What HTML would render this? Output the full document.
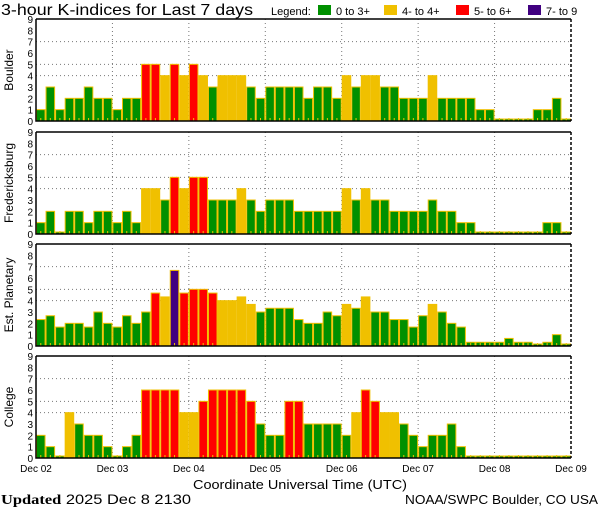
<!DOCTYPE html>
<html><head><meta charset="utf-8"><style>
body{margin:0;background:#fff;}
svg{display:block;font-family:"Liberation Sans",sans-serif;}
</style></head><body>
<svg id="c" width="600" height="510" xmlns="http://www.w3.org/2000/svg">
<text x="1" y="15" font-size="16" fill="#000" textLength="252" lengthAdjust="spacingAndGlyphs">3-hour K-indices for Last 7 days</text>
<g font-size="11">
<text x="271" y="15">Legend:</text>
<rect x="318" y="5" width="13" height="10" fill="#009000"/>
<text x="336" y="15">0 to 3+</text>
<rect x="384" y="5" width="13" height="10" fill="#f0c000"/>
<text x="402" y="15">4- to 4+</text>
<rect x="456" y="5" width="13" height="10" fill="#ff0000"/>
<text x="474" y="15">5- to 6+</text>
<rect x="528" y="5" width="13" height="10" fill="#400080"/>
<text x="546" y="15">7- to 9</text>
</g>
<text x="193" y="489" font-size="13" textLength="214" lengthAdjust="spacingAndGlyphs">Coordinate Universal Time (UTC)</text>
<text x="1" y="504" font-size="14" textLength="190" lengthAdjust="spacingAndGlyphs"><tspan font-family="Liberation Serif,serif" font-weight="bold">Updated</tspan> 2025 Dec  8 2130</text>
<text x="405" y="504" font-size="13" textLength="193" lengthAdjust="spacingAndGlyphs">NOAA/SWPC Boulder, CO USA</text>
</svg>
<script>
const stations = ["Boulder","Fredericksburg","Est. Planetary","College"];
const dayLabels = ["Dec 02","Dec 03","Dec 04","Dec 05","Dec 06","Dec 07","Dec 08","Dec 09"];
const yTicks = [0,1,2,3,4,5,6,7,8,9];
const gridLevels = [4,5,7];
const boulder = [1,3,1,2,2,3,2,2, 1,2,2,5,5,4,5,4, 5,4,3,4,4,4,3,2, 3,3,3,3,2,3,3,2, 4,3,4,4,3,3,2,2, 2,4,2,2,2,2,1,1, 0,0,0,0,1,1,2,0];
const fredericksburg = [1,2,0,2,2,1,2,2, 1,2,1,4,4,3,5,4, 5,5,3,3,3,4,3,2, 3,3,3,2,2,2,2,2, 4,3,4,3,3,2,2,2, 2,3,2,2,1,1,0,0, 0,0,0,0,0,1,1,0];
const planetary = [2.33,2.67,1.67,2,2,1.67,3,2, 1.67,2.67,2,3,4.67,4.33,6.67,4.67, 5,5,4.67,4,4,4.33,3.67,3, 3.33,3.33,3.33,2.33,2,2,3,2.67, 3.67,3.33,4.33,3,3,2.33,2.33,1.67, 2.67,3.67,3,2,1.67,0.33,0.33,0.33, 0.33,0.67,0.33,0.33,0,0.33,1,0];
const college = [2,1,0,4,3,2,2,1, 0,1,2,6,6,6,6,4, 4,5,6,6,6,6,5,3, 2,2,5,5,3,3,3,3, 2,4,6,5,4,4,3,2, 1,2,2,3,1,0,0,0, 0,0,0,0,0,0,0,0];
const series = [boulder, fredericksburg, planetary, college];

const svg = document.getElementById('c');
const NS = "http://www.w3.org/2000/svg";
const L = 36, R = 571, panelTops = [19,132,244,356], PH = 102, YMAX = 9;
function mk(tag, attrs, parent){ const e=document.createElementNS(NS,tag); for(const k in attrs) e.setAttribute(k,attrs[k]); (parent||svg).appendChild(e); return e; }
function colorFor(v){ if(v>=6.5) return "#400080"; if(v>=4.67) return "#ff0000"; if(v>=3.67) return "#f0c000"; return "#009000"; }

series.forEach((data, p) => {
  const top = panelTops[p], bot = top + PH;
  const n = data.length, bw = (R - L) / n;
  const xS = i => L + i * bw;
  const yS = v => bot - v / YMAX * PH;
  const g = mk('g', {});
  
  
  gridLevels.forEach(lv => {
    const ln = mk('line', {x1:L, x2:R, y1:yS(lv), y2:yS(lv), stroke:'#777', 'stroke-dasharray':'1 3'}, g);
    
    
  });
  for (let d = 1; d < 7; d++) {
    const x = xS(d * 8);
    const ln = mk('line', {x1:x, x2:x, y1:top, y2:bot, stroke:'#777', 'stroke-dasharray':'1 3'}, g);
    
    
  }
  data.forEach((v, i) => {
    let h = bot - yS(v); if (h < 2) h = 2;
    const b = mk('rect', {x:xS(i)+0.5, y:bot-h, width:bw-1, height:h, fill:colorFor(v), stroke:'#f0c000', 'stroke-width':1}, g);
    
    
    const t = mk('rect', {x:xS(i)+bw/2-0.5, y:bot-3, width:1, height:3, fill:'#f0c000'}, g);
    
    
  });
  yTicks.forEach(t => {
    const tx = mk('text', {x:33, y:yS(t)+4, 'font-size':10, 'text-anchor':'end'}, g);
    tx.textContent = t;
    
    
  });
  const ax = mk('path', {d:`M${L} ${top}H${R}M${L} ${top}V${bot}H${R}`, stroke:'#000', 'stroke-width':1.5, fill:'none'}, g);
  
  
  const rr = mk('line', {x1:R, x2:R, y1:top, y2:bot, stroke:'#000', 'stroke-width':1.5, 'stroke-dasharray':'3 2'}, g);
  
  
  const cy = (top + bot) / 2;
  const lab = mk('text', {x:0, y:0, 'font-size':12, 'text-anchor':'middle', transform:`translate(13 ${cy}) rotate(-90)`}, g);
  lab.textContent = stations[p];
  
  
});
const bw0 = (R - L) / 56;
dayLabels.forEach((d, i) => {
  const tx = mk('text', {x:L + i*8*bw0, y:472, 'font-size':10, 'text-anchor':'middle'});
  tx.textContent = d;
  
  
});
</script>
</body></html>
